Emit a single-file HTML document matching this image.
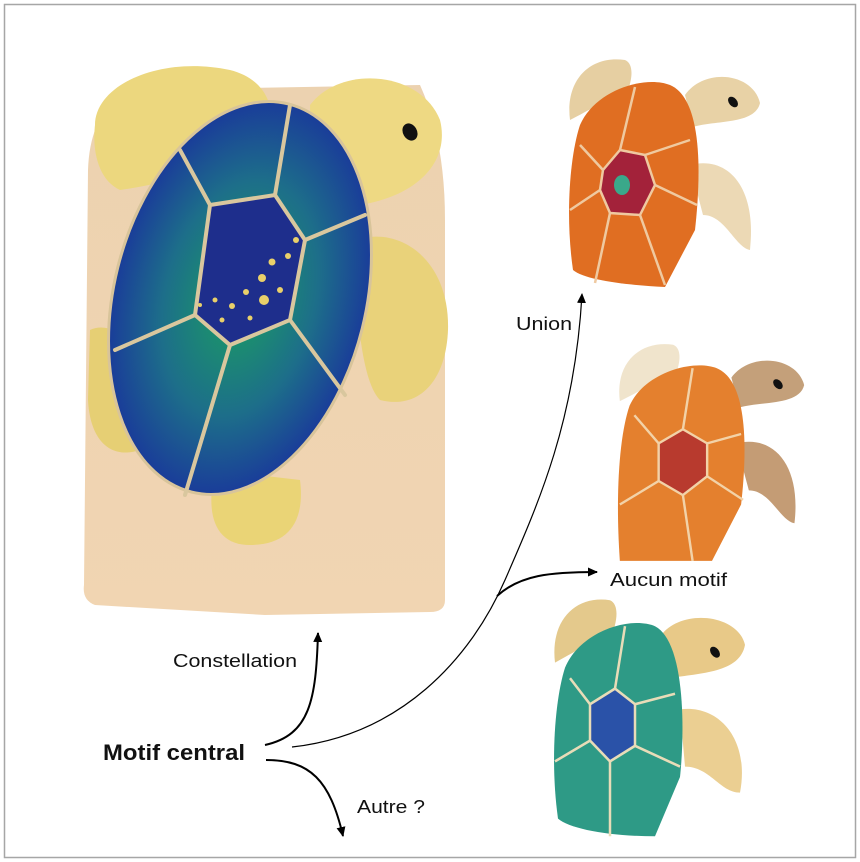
<!DOCTYPE html>
<html><head><meta charset="utf-8"><style>
html,body{margin:0;padding:0;background:#fff}
svg{display:block}
text{font-family:"Liberation Sans",sans-serif;fill:#111}
</style></head><body>
<svg width="860" height="862" viewBox="0 0 860 862" xmlns="http://www.w3.org/2000/svg">
<defs>
<marker id="ah" markerWidth="12" markerHeight="12" refX="9" refY="6" orient="auto" markerUnits="userSpaceOnUse">
<path d="M0,1.5 L10,6 L0,10.5 Z" fill="#000"/></marker>
<linearGradient id="wood" x1="0" y1="0" x2="0" y2="1"><stop offset="0" stop-color="#ecd2b0"/><stop offset="1" stop-color="#f1d5b2"/></linearGradient>
<radialGradient id="shell" cx="0.5" cy="0.5" r="0.6"><stop offset="0" stop-color="#1aa060"/><stop offset="0.5" stop-color="#1d6e8a"/><stop offset="0.85" stop-color="#1a3a9a"/></radialGradient>
</defs>
<rect x="4.5" y="4.5" width="851" height="853" fill="#fff" stroke="#a6a6a6" stroke-width="1.5"/>

<!-- big turtle -->
<path d="M88,170 Q90,110 130,90 L420,85 Q445,140 445,220 L445,600 Q445,612 430,612 L265,615 L95,605 Q82,600 84,585 Z" fill="url(#wood)"/>
<path d="M95,125 C95,85 160,55 230,70 C270,80 280,115 265,150 C230,160 190,180 120,190 C98,180 92,150 95,125 Z" fill="#ecd77e"/>
<path d="M310,105 C340,65 420,70 440,120 C450,160 420,195 360,205 C330,190 310,150 310,105 Z" fill="#eed983"/>
<ellipse cx="410" cy="132" rx="7" ry="9" fill="#111" transform="rotate(-30 410 132)"/>
<path d="M355,240 C400,225 450,260 448,330 C446,380 420,410 380,400 C360,380 355,300 355,240 Z" fill="#e9d27a"/>
<path d="M90,330 C110,320 140,340 150,380 L140,450 C110,460 90,440 88,400 Z" fill="#e6cf74"/>
<path d="M215,470 L300,480 C305,520 290,545 250,545 C215,545 205,515 215,470 Z" fill="#ead476"/>
<ellipse cx="240" cy="298" rx="126" ry="200" transform="rotate(14 240 298)" fill="url(#shell)" stroke="#d8c49a" stroke-width="3"/>
<g stroke="#d9c79e" stroke-width="4" fill="none" stroke-linecap="round">
<path d="M210,205 L275,195 L305,240 L290,320 L230,345 L195,315 Z" fill="#1e2e8c"/>
<path d="M210,205 L180,150 M275,195 L290,105 M305,240 L365,215 M290,320 L345,395 M230,345 L185,495 M195,315 L115,350"/>
</g>
<g fill="#e9d06a"><circle cx="296" cy="240" r="3"/><circle cx="288" cy="256" r="3"/><circle cx="272" cy="262" r="3.5"/><circle cx="262" cy="278" r="4"/><circle cx="280" cy="290" r="3"/><circle cx="264" cy="300" r="5"/><circle cx="246" cy="292" r="3"/><circle cx="232" cy="306" r="3"/><circle cx="215" cy="300" r="2.5"/><circle cx="222" cy="320" r="2.5"/><circle cx="250" cy="318" r="2.5"/><circle cx="200" cy="305" r="2"/></g>

<!-- small turtles -->
<g transform="translate(565,55)">
<path d="M5,65 C0,25 25,0 60,5 C72,10 65,35 58,45 C38,45 25,55 5,65 Z" fill="#e6cfa2"/>
<path d="M120,40 C140,12 188,18 195,48 C190,70 150,65 128,72 Z" fill="#e8d2a6"/><ellipse cx="168" cy="47" rx="4" ry="6" fill="#111" transform="rotate(-40 168 47)"/>
<path d="M125,110 C165,100 192,135 185,195 C170,192 160,160 138,160 Z" fill="#ecd9b5"/>
<path d="M15,70 C30,35 80,20 105,30 C140,45 135,130 130,175 L100,232 C60,230 20,225 8,215 C0,160 5,100 15,70 Z" fill="#e06e22"/>
<g stroke="#efc9a0" stroke-width="2.5" fill="none"><path d="M38,115 L55,95 L80,100 L90,130 L75,160 L45,158 L35,135 Z" fill="#a3223a"/><path d="M38,115 L15,90 M55,95 L70,32 M80,100 L125,85 M90,130 L132,150 M75,160 L100,230 M45,158 L30,228 M35,135 L5,155"/></g>
<ellipse cx="57" cy="130" rx="8" ry="10" fill="#3aa88a"/>
</g>
<g transform="translate(615,340) scale(0.97,0.94)">
<path d="M5,65 C0,25 25,0 60,5 C72,10 65,35 58,45 C38,45 25,55 5,65 Z" fill="#f0e4cc"/>
<path d="M120,40 C140,12 188,18 195,48 C190,70 150,65 128,72 Z" fill="#c4a07a"/><ellipse cx="168" cy="47" rx="4" ry="6" fill="#111" transform="rotate(-40 168 47)"/>
<path d="M125,110 C165,100 192,135 185,195 C170,192 160,160 138,160 Z" fill="#c49c75"/>
<path d="M15,70 C30,35 80,20 105,30 C140,45 135,130 130,175 L100,235 L5,235 C0,160 5,100 15,70 Z" fill="#e4802e"/>
<g stroke="#f2d2a8" stroke-width="2.5" fill="none"><path d="M45,110 L70,95 L95,110 L95,145 L70,165 L45,150 Z" fill="#b83a2e"/><path d="M45,110 L20,80 M70,95 L80,30 M95,110 L130,100 M95,145 L132,170 M70,165 L80,235 M45,150 L5,175"/></g>
</g>
<g transform="translate(550,595) scale(1,1.04)">
<path d="M5,65 C0,25 25,0 60,5 C72,10 65,35 58,45 C38,45 25,55 5,65 Z" fill="#e4c98c"/>
<path d="M110,40 C130,12 188,18 195,48 C190,75 150,75 120,80 Z" fill="#e8c988"/><ellipse cx="165" cy="55" rx="4" ry="6" fill="#111" transform="rotate(-40 165 55)"/>
<path d="M130,110 C170,105 200,140 190,190 C170,190 160,165 135,165 Z" fill="#ebcf92"/>
<path d="M15,70 C30,35 80,20 105,30 C135,45 135,130 130,175 L105,232 C60,232 20,225 8,215 C0,160 5,100 15,70 Z" fill="#2e9a86"/>
<g stroke="#e8dcb8" stroke-width="2.5" fill="none"><path d="M40,105 L65,90 L85,105 L85,145 L60,160 L40,140 Z" fill="#2a52a8"/><path d="M40,105 L20,80 M65,90 L75,30 M85,105 L125,95 M85,145 L130,165 M60,160 L60,232 M40,140 L5,160"/></g>
</g>

<!-- arrows -->
<g fill="none" stroke="#000" stroke-width="2">
<path d="M265,745 C310,735 316,700 318,633" marker-end="url(#ah)"/>
<path d="M266,760 C310,760 330,780 343,836" marker-end="url(#ah)"/>
<path d="M497,596 C520,575 550,572 597,572" marker-end="url(#ah)"/>
</g>
<path d="M292,747 C400,735 470,660 505,580 C540,500 575,420 582,294" fill="none" stroke="#000" stroke-width="1.2" marker-end="url(#ah)"/>

<text x="516" y="330" font-size="18" textLength="56" lengthAdjust="spacingAndGlyphs">Union</text>
<text x="610" y="586" font-size="18" textLength="117" lengthAdjust="spacingAndGlyphs">Aucun motif</text>
<text x="173" y="667" font-size="18" textLength="124" lengthAdjust="spacingAndGlyphs">Constellation</text>
<text x="103" y="760" font-size="22" font-weight="bold" textLength="142" lengthAdjust="spacingAndGlyphs">Motif central</text>
<text x="357" y="813" font-size="18" textLength="68" lengthAdjust="spacingAndGlyphs">Autre ?</text>
</svg>
</body></html>
